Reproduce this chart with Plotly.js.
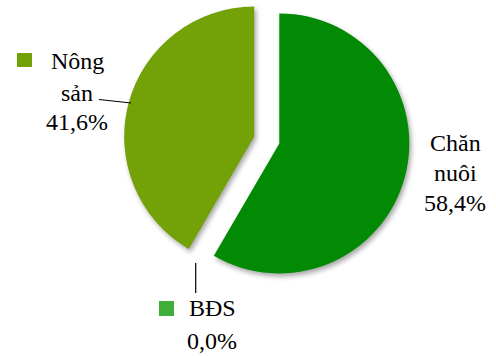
<!DOCTYPE html>
<html>
<head>
<meta charset="utf-8">
<script src="https://cdn.plot.ly/plotly-3.0.1.min.js"></script>
<style>
  html, body { margin: 0; padding: 0; width: 496px; height: 356px; overflow: hidden; background: #fff; }
  #chart { position: absolute; left: 0; top: -10px; width: 496px; height: 366px; }
  #chart .slice path.surface { filter: drop-shadow(2px 3px 2.5px rgba(0,0,0,0.35)); }
</style>
</head>
<body>
<div id="chart"></div>
<script>
// ---- data ----
const categories = ['Chăn nuôi', 'Nông sản', 'BĐS'];
const shares = [58.4, 41.6, 0.0];           // percent
const colors = ['#038A05', '#72A108', '#3FAF3A'];
const labelLines = [['Chăn', 'nuôi'], ['Nông', 'sản'], ['BĐS']];

// ---- helpers: screen px -> paper coords (plot is 366 tall, shifted up 10px) ----
const W = 496, H = 366, OFF = 10;
const px = x => x / W;
const py = y => 1 - (y + OFF) / H;
const fmt = v => v.toFixed(1).replace('.', ',') + '%';

const trace = {
  type: 'pie',
  labels: categories,
  values: shares,
  marker: { colors: colors, line: { width: 0 } },
  sort: false,
  direction: 'clockwise',
  rotation: 0,
  pull: [0.1, 0.1, 0],
  textinfo: 'none',
  hoverinfo: 'label+percent',
  showlegend: false,
  domain: { x: [px(123.75), px(409.75)], y: [py(283), py(-3)] }
};

// label layout (centre x, middle y of each text line), per category
const labelPos = [
  { x: 455, ys: [143, 173, 203] },
  { x: 77,  ys: [61, 93, 122] },
  { x: 212, ys: [308, 341] }
];

const annotations = [];
categories.forEach((c, i) => {
  const lines = labelLines[i].concat([fmt(shares[i])]);
  lines.forEach((t, j) => {
    let x = labelPos[i].x;
    if (i === 1 && j === 0) x = 77.5;
    annotations.push({
      xref: 'paper', yref: 'paper', x: px(x), y: py(labelPos[i].ys[j]),
      xanchor: 'center', yanchor: 'middle', showarrow: false,
      text: t, font: { family: 'Liberation Serif', size: 24, color: '#000000' }
    });
  });
});

const shapes = [
  // legend squares
  { type: 'rect', xref: 'paper', yref: 'paper', x0: px(17), x1: px(32), y0: py(67), y1: py(53),
    fillcolor: colors[1], line: { width: 0 } },
  { type: 'rect', xref: 'paper', yref: 'paper', x0: px(159), x1: px(174), y0: py(316), y1: py(301),
    fillcolor: colors[2], line: { width: 0 } },
  // leader lines
  { type: 'line', xref: 'paper', yref: 'paper', x0: px(99), y0: py(99.5), x1: px(131), y1: py(103),
    line: { color: '#000', width: 1.2 } },
  { type: 'line', xref: 'paper', yref: 'paper', x0: px(195.7), y0: py(263), x1: px(195.7), y1: py(293),
    line: { color: '#000', width: 1.2 } }
];

const layout = {
  width: W, height: H,
  margin: { l: 0, r: 0, t: 0, b: 0 },
  paper_bgcolor: '#fff',
  showlegend: false,
  annotations: annotations,
  shapes: shapes
};

Plotly.newPlot('chart', [trace], layout, { displayModeBar: false, staticPlot: true });
</script>
</body>
</html>
